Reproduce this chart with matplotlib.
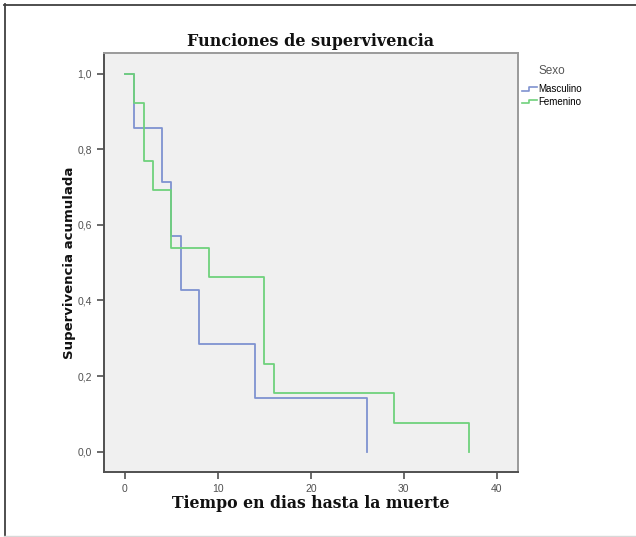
import matplotlib
matplotlib.use("Agg")
import matplotlib.pyplot as plt
from matplotlib.lines import Line2D
from matplotlib.legend_handler import HandlerBase

# Kaplan-Meier steps
masc_times = [0, 1, 4, 5, 6, 8, 14, 26]
masc_surv = [1.0, 0.857, 0.714, 0.571, 0.429, 0.286, 0.143, 0.0]
fem_times = [0, 1, 2, 3, 5, 9, 15, 16, 29, 37]
fem_surv = [1.0, 0.923, 0.769, 0.692, 0.538, 0.462, 0.231, 0.154, 0.077, 0.0]

series_labels = ["Masculino", "Femenino"]
series_colors = ["#7f92d0", "#6fd17c"]
x_ticks = [0, 10, 20, 30, 40]
y_ticks = [0.0, 0.2, 0.4, 0.6, 0.8, 1.0]


class StepHandler(HandlerBase):
    """Little step-shaped legend glyph, like SPSS draws it."""

    def create_artists(self, legend, orig_handle, xdescent, ydescent,
                       width, height, fontsize, trans):
        w, h = width, height
        xs = [-xdescent, 0.45 * w, 0.45 * w, w]
        ys = [0.25 * h, 0.25 * h, 0.75 * h, 0.75 * h]
        line = Line2D(xs, ys, color=orig_handle.get_color(), lw=1.2,
                      transform=trans)
        return [line]


fig = plt.figure(figsize=(6.36, 5.37), dpi=100)
ax = fig.add_axes([104 / 636, 65 / 537, 414 / 636, 419 / 537])
ax.set_facecolor("#f0f0f0")

handles = []
for t, s, lab, col in zip([masc_times, fem_times], [masc_surv, fem_surv],
                          series_labels, series_colors):
    h, = ax.step(t, s, where="post", color=col, lw=1.3, label=lab)
    handles.append(h)

ax.set_xlim(-2.26, 42.3)
ax.set_ylim(-0.054, 1.055)
ax.set_xticks(x_ticks)
ax.set_yticks(y_ticks)
ax.set_xticklabels([str(v) for v in x_ticks])
ax.set_yticklabels([f"{v:.1f}".replace(".", ",") for v in y_ticks])
ax.tick_params(direction="out", length=5, width=1.2, color="#505050",
               labelsize=7.5, labelcolor="#505050")
for lab in ax.get_xticklabels() + ax.get_yticklabels():
    lab.set_family("Liberation Sans")

for side in ["left", "bottom"]:
    ax.spines[side].set_color("#505050")
    ax.spines[side].set_linewidth(1.4)
for side in ["top", "right"]:
    ax.spines[side].set_color("#9a9a9a")
    ax.spines[side].set_linewidth(1.4)

ax.set_title("Funciones de supervivencia", family="DejaVu Serif",
             fontweight="bold", fontsize=11.5, pad=5, color="#111111")
ax.set_xlabel("Tiempo en dias hasta la muerte", family="DejaVu Serif",
              fontweight="bold", fontsize=11.3, labelpad=1, color="#111111")
ax.set_ylabel("Supervivencia acumulada", family="DejaVu Sans",
              fontweight="bold", fontsize=9.5, labelpad=1, color="#111111")

leg = ax.legend(handles=handles, labels=series_labels, title="Sexo",
                loc="upper left", bbox_to_anchor=(1.0, 0.98), frameon=False,
                handler_map={Line2D: StepHandler()}, handlelength=1.6,
                handletextpad=0.1, labelspacing=0.25, borderaxespad=0.0,
                prop={"family": "Liberation Sans", "size": 7})
leg.get_title().set_fontsize(8.5)
leg.get_title().set_color("#555555")
leg.get_title().set_family("Liberation Sans")
leg._legend_box.sep = 5

# outer frame around the whole picture
fig.add_artist(Line2D([4 / 636, 1.0], [1 - 4.5 / 537] * 2,
                      transform=fig.transFigure, color="#404040", lw=1.3))
fig.add_artist(Line2D([4.5 / 636] * 2, [0, 1 - 4 / 537],
                      transform=fig.transFigure, color="#404040", lw=1.3))
fig.add_artist(Line2D([4 / 636, 1.0], [1.2 / 537] * 2,
                      transform=fig.transFigure, color="#d8d8d8", lw=1.0))

fig.savefig("out.png", dpi=100)
